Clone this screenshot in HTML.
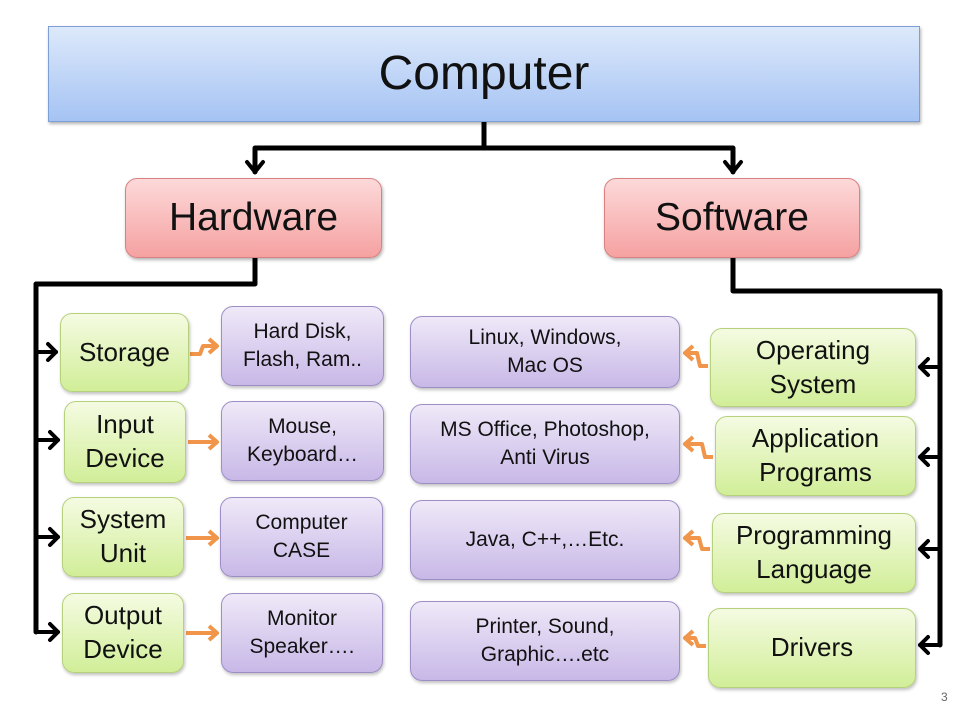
<!DOCTYPE html>
<html><head><meta charset="utf-8"><style>
body{margin:0;width:960px;height:720px;background:#fff;position:relative;overflow:hidden;font-family:"Liberation Sans",sans-serif;}
.b{position:absolute;display:flex;align-items:center;justify-content:center;text-align:center;box-sizing:border-box;color:#111;line-height:1.2;}
.top{background:linear-gradient(#dde9fb,#a5c3f3);border:1px solid #7d9fd6;font-size:48px;box-shadow:1px 2px 3px rgba(0,0,0,.3);}
.p{background:linear-gradient(#fdd9d9,#f5a1a1);border:1px solid #d98080;border-radius:12px;font-size:39px;box-shadow:1px 2px 3px rgba(0,0,0,.3);}
.g{background:linear-gradient(#f5fbe2,#d1ee98);border:1px solid #b5d17c;border-radius:12px;font-size:26px;line-height:1.3;box-shadow:1px 2px 3px rgba(0,0,0,.25);}
.v{background:linear-gradient(#efe9f8,#c8b8e7);border:1px solid #9e8ec6;border-radius:12px;font-size:21px;line-height:1.35;box-shadow:1px 2px 3px rgba(0,0,0,.25);}
</style></head><body>
<svg width="960" height="720" style="position:absolute;left:0;top:0">
<g fill="none" stroke="#000" stroke-width="5" stroke-linejoin="round" stroke-linecap="round">
<path d="M484 122V148M255 148H733M255 148V172M733 148V172"/>
<path d="M247 162L255 172L263 162M725 162L733 172L741 162" stroke-width="4"/>
<path d="M255 258V284H36V632"/>
<path d="M36 352H56M36 440H58M36 537H58M36 632H58" stroke-width="4"/>
<path d="M48 344L56 352L48 360M50 432L58 440L50 448M50 529L58 537L50 545M50 624L58 632L50 640" stroke-width="4"/>
<path d="M733 258V291H940V645"/>
<path d="M940 367H920M940 457H920M940 549H920M940 645H920" stroke-width="4"/>
<path d="M928 359L920 367L928 375M928 449L920 457L928 465M928 541L920 549L928 557M928 637L920 645L928 653" stroke-width="4"/>
</g>
<g fill="none" stroke="#f0954a" stroke-width="4" stroke-linejoin="round">
<path d="M190 354L200 354L203 346L216 346M209 339L217 346L209 353"/>
<path d="M188 442H216M209 435L217 442L209 449"/>
<path d="M186 538H216M209 531L217 538L209 545"/>
<path d="M186 633H216M209 626L217 633L209 640"/>
<path d="M708 366H700L697 353H686M693 346L685 353L693 360"/>
<path d="M713 457H705L702 444H686M693 437L685 444L693 451"/>
<path d="M710 549H702L699 538H686M693 531L685 538L693 545"/>
<path d="M706 646H698L695 638H686M693 631L685 638L693 645"/>
</g>
</svg>
<div class="b top" style="left:48px;top:26px;width:872px;height:96px">Computer</div>
<div class="b p" style="left:125px;top:178px;width:257px;height:80px">Hardware</div>
<div class="b p" style="left:604px;top:178px;width:256px;height:80px">Software</div>
<div class="b g" style="left:60px;top:313px;width:129px;height:79px">Storage</div>
<div class="b g" style="left:64px;top:401px;width:122px;height:82px">Input<br>Device</div>
<div class="b g" style="left:62px;top:497px;width:122px;height:80px">System<br>Unit</div>
<div class="b g" style="left:62px;top:593px;width:122px;height:80px">Output<br>Device</div>
<div class="b v" style="left:221px;top:306px;width:163px;height:80px">Hard Disk,<br>Flash, Ram..</div>
<div class="b v" style="left:221px;top:401px;width:163px;height:80px">Mouse,<br>Keyboard…</div>
<div class="b v" style="left:220px;top:497px;width:163px;height:80px">Computer<br>CASE</div>
<div class="b v" style="left:221px;top:593px;width:162px;height:80px">Monitor<br>Speaker….</div>
<div class="b v" style="left:410px;top:316px;width:270px;height:72px">Linux, Windows,<br>Mac OS</div>
<div class="b v" style="left:410px;top:404px;width:270px;height:80px">MS Office, Photoshop,<br>Anti Virus</div>
<div class="b v" style="left:410px;top:500px;width:270px;height:80px">Java, C++,…Etc.</div>
<div class="b v" style="left:410px;top:601px;width:270px;height:80px">Printer, Sound,<br>Graphic….etc</div>
<div class="b g" style="left:710px;top:328px;width:206px;height:79px">Operating<br>System</div>
<div class="b g" style="left:715px;top:416px;width:201px;height:80px">Application<br>Programs</div>
<div class="b g" style="left:712px;top:513px;width:204px;height:80px">Programming<br>Language</div>
<div class="b g" style="left:708px;top:608px;width:208px;height:80px">Drivers</div>
<div style="position:absolute;left:941px;top:690px;font-size:12px;color:#666">3</div>
</body></html>
